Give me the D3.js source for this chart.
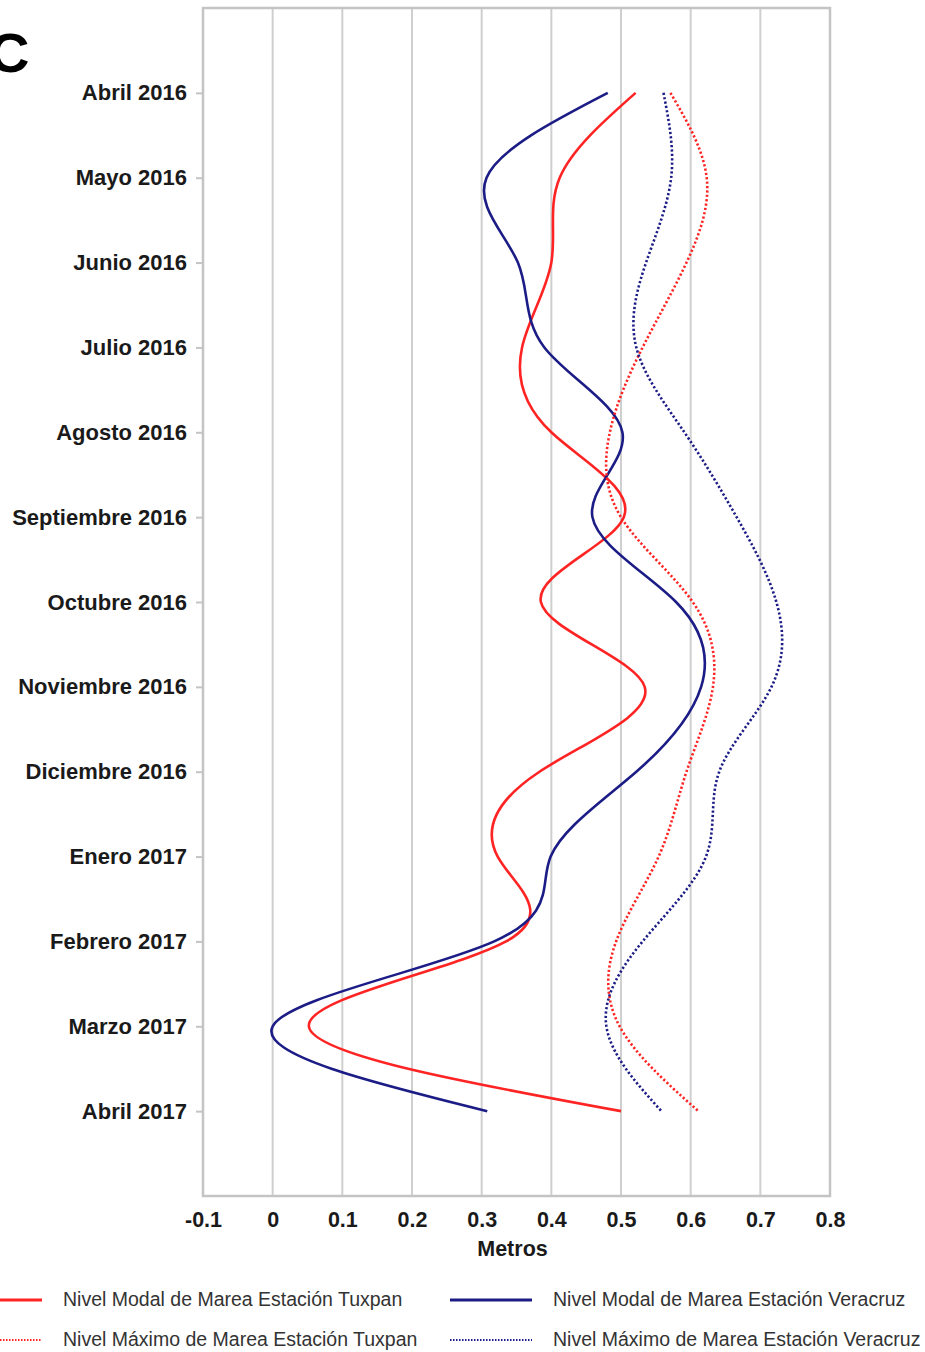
<!DOCTYPE html>
<html lang="es">
<head>
<meta charset="utf-8">
<script src="https://cdn.jsdelivr.net/npm/d3@7"></script>
<style>
  html, body { margin: 0; padding: 0; background: #fff; }
  svg { display: block; font-family: "Liberation Sans", Arial, Helvetica, sans-serif; }
</style>
</head>
<body>
<svg id="chart" width="925" height="1352"></svg>
<script>
// Months on the vertical axis (top to bottom)
const months = [
  "Abril 2016", "Mayo 2016", "Junio 2016", "Julio 2016", "Agosto 2016",
  "Septiembre 2016", "Octubre 2016", "Noviembre 2016", "Diciembre 2016",
  "Enero 2017", "Febrero 2017", "Marzo 2017", "Abril 2017"
];

// Tide levels in metres
const modalTuxpan    = [0.521, 0.412, 0.40, 0.358, 0.40, 0.504, 0.385, 0.534, 0.383, 0.323, 0.335, 0.052, 0.50];
const modalVeracruz  = [0.481, 0.307, 0.352, 0.39, 0.502, 0.459, 0.579, 0.615, 0.522, 0.399, 0.318, 0.0, 0.308];
const maxTuxpan      = [0.571, 0.623, 0.594, 0.531, 0.484, 0.50, 0.603, 0.632, 0.594, 0.554, 0.493, 0.498, 0.611];
const maxVeracruz    = [0.561, 0.572, 0.536, 0.522, 0.591, 0.666, 0.723, 0.716, 0.641, 0.622, 0.531, 0.479, 0.558];

const xTicks = [-0.1, 0, 0.1, 0.2, 0.3, 0.4, 0.5, 0.6, 0.7, 0.8];

const seriesNames = [
  "Nivel Modal de Marea Estación Tuxpan",
  "Nivel Modal de Marea Estación Veracruz",
  "Nivel Máximo de Marea Estación Tuxpan",
  "Nivel Máximo de Marea Estación Veracruz"
];

const RED = "#ff2424";
const BLUE = "#1c1c86";

const series = [
  { name: seriesNames[0], values: modalTuxpan,   color: RED,  dotted: false },
  { name: seriesNames[1], values: modalVeracruz, color: BLUE, dotted: false },
  { name: seriesNames[2], values: maxTuxpan,     color: RED,  dotted: true },
  { name: seriesNames[3], values: maxVeracruz,   color: BLUE, dotted: true }
];

const svg = d3.select("#chart");
const plot = { left: 203, right: 830, top: 8, bottom: 1196 };

const x = d3.scaleLinear().domain([-0.1, 0.8]).range([plot.left, plot.right]);
const y = d3.scalePoint().domain(months).range([plot.top, plot.bottom]).padding(1);

// Vertical gridlines
svg.append("g")
  .selectAll("line")
  .data(xTicks)
  .join("line")
  .attr("x1", d => x(d)).attr("x2", d => x(d))
  .attr("y1", plot.top).attr("y2", plot.bottom)
  .attr("stroke", "#cfcfcf")
  .attr("stroke-width", 2);

// Frame
svg.append("rect")
  .attr("x", plot.left).attr("y", plot.top)
  .attr("width", plot.right - plot.left).attr("height", plot.bottom - plot.top)
  .attr("fill", "none")
  .attr("stroke", "#c4c4c4")
  .attr("stroke-width", 2.5);

// Month axis
const yAxis = svg.append("g")
  .attr("transform", `translate(${plot.left},0)`)
  .call(d3.axisLeft(y).tickSize(7).tickPadding(9));
yAxis.select(".domain").remove();
yAxis.selectAll(".tick line").attr("stroke", "#c4c4c4").attr("stroke-width", 2);
yAxis.selectAll(".tick text")
  .attr("fill", "#1a1a1a")
  .attr("font-size", 22)
  .attr("font-weight", "bold")
  .attr("font-family", "'Liberation Sans', Arial, sans-serif");

// Metres axis
const xAxis = svg.append("g")
  .attr("transform", `translate(0,${plot.bottom})`)
  .call(d3.axisBottom(x).tickValues(xTicks).tickFormat(d => String(+d.toFixed(1))).tickSize(0).tickPadding(16));
xAxis.select(".domain").remove();
xAxis.selectAll(".tick text")
  .attr("fill", "#1a1a1a")
  .attr("font-size", 21.5)
  .attr("font-weight", "bold")
  .attr("font-family", "'Liberation Sans', Arial, sans-serif");

svg.append("text")
  .attr("x", (plot.left + plot.right) / 2 - 4)
  .attr("y", 1256)
  .attr("text-anchor", "middle")
  .attr("font-size", 21.5)
  .attr("font-weight", "bold")
  .attr("fill", "#1a1a1a")
  .text("Metros");

// Panel letter
svg.append("text")
  .attr("x", -11).attr("y", 72)
  .attr("font-size", 56)
  .attr("font-weight", "bold")
  .attr("fill", "#000")
  .text("C");

// Series curves: natural cubic spline through the monthly values
const line = d3.line()
  .x(d => x(d.v))
  .y(d => y(d.m))
  .curve(d3.curveNatural);

svg.append("g")
  .selectAll("path")
  .data(series)
  .join("path")
  .attr("d", s => line(s.values.map((v, i) => ({ v, m: months[i] }))))
  .attr("fill", "none")
  .attr("stroke", s => s.color)
  .attr("stroke-width", 2.6)
  .attr("stroke-dasharray", s => s.dotted ? "2.2,2.2" : null);

// Legend
const legendItems = [
  { s: series[0], lx: 0,   tx: 63,  y: 1300 },
  { s: series[1], lx: 450, tx: 553, y: 1300 },
  { s: series[2], lx: 0,   tx: 63,  y: 1340 },
  { s: series[3], lx: 450, tx: 553, y: 1340 }
];
const legend = svg.append("g").selectAll("g").data(legendItems).join("g");
legend.append("line")
  .attr("x1", d => d.lx).attr("x2", d => d.lx === 0 ? 42 : 532)
  .attr("y1", d => d.y).attr("y2", d => d.y)
  .attr("stroke", d => d.s.color)
  .attr("stroke-width", d => d.s.dotted ? 2 : 3)
  .attr("stroke-dasharray", d => d.s.dotted ? "1.5,1.5" : null);
legend.append("text")
  .attr("x", d => d.tx).attr("y", d => d.y + 6)
  .attr("font-size", 19.5)
  .attr("fill", "#333")
  .text(d => d.s.name);
</script>
</body>
</html>
